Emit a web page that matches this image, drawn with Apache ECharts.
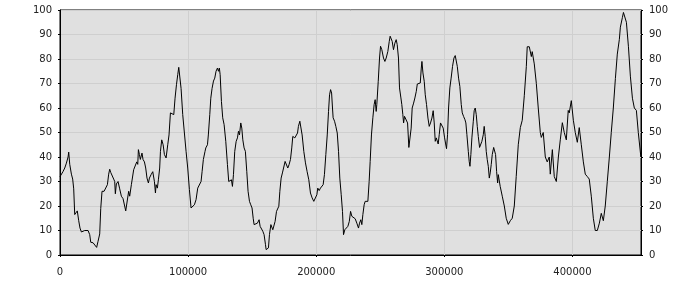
<!DOCTYPE html>
<html>
<head>
<meta charset="utf-8">
<script src="https://cdn.jsdelivr.net/npm/echarts@6/dist/echarts.min.js"></script>
<style>
  html, body { margin: 0; padding: 0; background: #fff; }
  #chart { width: 700px; height: 300px; }
</style>
</head>
<body>
<div id="chart"></div>
<script>
// x positions in thousands
var xK = [
  0, 2.3, 3.7, 5.0, 6.3, 6.8, 7.6, 8.9, 9.9, 10.7, 11.5, 12.8, 13.5, 14.6, 15.6, 16.7, 18.0, 19.3, 21.9, 23.2,
  24.0, 25.8, 27.1, 28.6, 29.7, 31.0, 31.8, 32.8, 34.4, 35.7, 37.0, 38.0, 38.8, 39.6, 41.1, 41.9, 42.7, 43.2, 44.0, 45.3,
  46.6, 47.9, 49.2, 50.5, 51.3, 52.6, 53.6, 54.4, 55.7,
  57.5, 58.6, 59.9, 60.7, 61.2, 62.0, 62.7, 64.0, 64.8, 65.9, 66.9, 67.9, 69.0, 69.8, 71.1, 72.4, 73.1, 73.7, 74.5, 75.0,
  76.0, 76.8, 77.8, 78.4, 79.4, 80.5, 81.5, 82.8, 84.1, 85.1, 86.2, 87.7, 88.8, 89.8, 90.9, 91.9, 92.7, 93.7, 94.5, 95.8,
  97.1, 98.4, 99.7, 101.0, 102.3, 103.6, 104.9, 106.2, 107.5, 108.8, 110.1, 110.9, 111.9, 113.2,
  113.8, 115.1, 115.8, 116.9, 117.7, 118.7, 119.8, 120.8, 121.8, 122.9, 123.7, 124.4, 125.0, 126.0, 127.0, 128.1, 129.4, 130.7, 131.7, 132.8,
  133.8, 134.6, 135.4, 136.4, 137.5, 138.5, 139.3, 140.1, 141.1, 141.9, 142.7, 143.7, 144.7, 145.8, 146.8, 147.9, 148.9, 149.9, 150.8, 151.5,
  152.8, 154.1, 155.4, 156.2, 157.2, 158.3, 159.3, 160.4, 160.9, 161.9, 162.7, 163.5, 164.6, 165.3, 166.1, 167.1, 167.9, 169.0,
  170.8, 171.6, 172.6, 173.6, 174.7, 175.7, 176.8, 177.8, 178.8, 179.9, 180.9, 181.7, 182.5, 183.3, 184.3, 185.4, 186.1, 187.2, 188.2, 189.0,
  190.3, 191.6, 192.9, 194.2, 195.5, 196.8, 198.1, 199.4, 200.5, 201.2, 202.3, 203.3, 204.4, 205.4, 206.4, 207.5, 208.6, 209.6, 210.4, 211.2,
  212.0, 212.7, 213.2, 214.3, 215.3, 216.4, 217.4, 218.4, 219.5, 220.5, 221.3, 222.3, 223.4, 224.7, 225.8, 226.8,
  227.8, 229.1, 230.4, 231.7, 233.0, 233.8, 234.8, 235.6, 236.4, 237.4, 238.2, 239.5, 240.3, 241.3, 242.1, 243.1, 244.2, 245.2, 246.0, 246.8,
  247.3, 248.4, 249.4, 250.2, 251.2, 252.5, 253.6, 254.6, 255.9, 257.0, 257.7, 258.5, 259.3, 260.3, 261.4, 262.4, 263.2, 264.2, 265.0, 266.1,
  266.8, 267.6, 268.2, 268.9, 270.2, 271.3, 271.8, 272.3, 273.4, 274.1, 274.9, 276.0, 277.0, 278.1, 278.9, 280.2, 281.2, 282.0, 282.5, 283.3,
  284.3, 285.1, 286.1, 287.2, 288.2, 289.2, 290.3, 291.3, 292.1, 292.9, 293.7, 294.4, 295.2, 296.0, 297.0, 298.1, 299.1, 300.2, 300.9, 301.7,
  302.5, 303.3, 304.3, 305.3, 306.4, 307.5, 308.5, 309.3, 310.1, 311.1, 312.1, 313.2, 314.0, 315.0, 316.1, 316.8, 317.6, 318.7, 319.4, 320.0,
  320.7, 321.5, 322.6, 323.3, 324.1, 324.9, 325.7, 326.5, 327.5, 328.3, 329.3, 330.4, 331.1, 331.9, 332.7, 333.5, 334.3, 335.1, 335.8, 336.6,
  337.4, 338.5, 339.2, 340.0, 340.8, 341.6, 342.1,
  343.6, 345.2, 346.8, 348.3, 349.9, 351.5, 353.0, 354.6, 356.1, 357.7, 359.3, 360.8, 362.4, 364.0, 364.7, 366.3, 367.9, 368.6, 370.2, 371.8,
  373.3, 374.9, 375.7, 377.2, 378.8, 380.3, 381.9, 382.7, 384.3, 385.8, 387.4, 389.0, 390.5, 392.1, 393.6, 395.2, 396.7, 397.5, 399.1, 400.7,
  402.2, 403.8, 405.3, 406.9, 408.5, 410.0, 411.6, 413.1, 414.7, 416.3, 417.8, 419.4, 421.0, 422.5, 424.1, 425.6, 427.2, 428.8, 430.3, 431.9,
  433.5, 435.0, 436.6, 437.4, 439.0, 439.8, 441.3, 442.1, 443.7, 445.2, 446.8, 448.3, 449.9, 451.4, 453.4
];

var values = [
  32, 34, 35.5, 37.5, 40, 42, 37, 33, 31, 27, 16.5, 16, 18, 14, 11, 9.4, 10.2, 10, 10, 8.3,
  5.2, 5, 4.2, 3.1, 5.6, 8.6, 19, 26, 26, 26, 28.7, 33, 35, 33.7, 34, 31, 30, 25, 29, 30,
  27, 24, 23, 23, 18, 18, 26, 24, 28.7,
  34.8, 34, 38, 37, 43, 41, 39, 41.6, 39, 38, 35.5, 31.4, 29.4, 31.4, 32.8, 34, 33.5, 30, 25.3, 28.7,
  27.3, 30.7, 35.5, 42.3, 47, 45, 41, 39.6, 45, 49, 58, 58, 57.3, 64, 69.5, 73.6, 76.6, 76.6, 68, 57.3,
  49.8, 42.3, 35.5, 26.7, 19.2, 19.9, 20.5, 22.6, 27.3, 28, 30, 34, 39, 42.3,
  43.7, 45, 49, 57.3, 64, 68, 71, 72.2, 75, 76.3, 75, 76.3, 73.6, 62.7, 56, 53.2, 46.4, 36.9, 30, 29.4,
  30.7, 28, 32.8, 42.3, 46.4, 47.8, 50.5, 49, 53.9, 51.8, 47, 43.7, 42.3, 34, 26, 21.9, 20.5, 19.2, 15, 12.4,
  12.4, 13, 14.4, 11.7, 11, 9.7, 8.3, 4.2, 2.2, 2.2, 2.9, 8.3, 12.4, 11.7, 10.3, 10.3, 13.7, 17.8,
  19.9, 26, 31.4, 33.5, 34, 38.2, 38.2, 35.5, 36.9, 39, 43.7, 48.4, 49, 47.8, 48.4, 49.8, 52.5, 54.6, 54.6, 49,
  42.3, 37.6, 34, 30.7, 25.3, 23.3, 21.9, 21.2, 24.6, 27.3, 26.3, 27.3, 26.7, 28.7, 32.8, 41, 49, 58.6, 65.4, 67.5,
  66.1, 60, 56, 54.6, 52.5, 49.8, 42.3, 31.4, 24.6, 17.8, 8.3, 10.3, 11, 11.7, 13.7, 17.8,
  15.8, 15.1, 14.8, 13, 11, 13, 14.4, 12.4, 16.5, 20.5, 21.9, 21.9, 21.9, 30, 38.2, 49, 56, 61.4, 63.4, 58.6,
  61.4, 70.9, 80.4, 85.2, 83.8, 80.4, 79, 80.4, 83.1, 87.2, 89.3, 88.6, 87.2, 83.8, 86.5, 87.9, 85.9, 80.4, 68.2, 64.1,
  61.4, 57.3, 53.9, 56.6, 57.3, 53.9, 49, 43.9, 43.9, 51.8, 60, 62, 64.1, 66.8, 69.8, 69.8, 70.2, 76.3, 79, 74.3,
  70.9, 65.4, 61.4, 55.9, 52.5, 53.9, 55.9, 58.9, 53.9, 46.4, 47.8, 47.1, 45.3, 49.1, 53.9, 53.9, 51.8, 47.8, 45.7, 43.4,
  49.1, 60, 68.2, 72.2, 77, 80.4, 81.4, 81.8, 77, 72.2, 68.8, 61.4, 58, 56.6, 55.2, 53.9, 49.1, 42.3, 38.2, 36.2,
  41, 47.8, 54.6, 58.9, 60, 57.3, 52.5, 48.4, 43.9, 43.9, 46.4, 49.1, 52.5, 48.4, 42.3, 38.9, 36.2, 31.4, 33.5, 36.9,
  41, 43.9, 43.7, 41, 34, 29.4, 32.8,
  28, 24, 20, 15, 12.5, 14, 15, 20, 32, 45, 52, 55, 65, 77, 85, 85, 81, 83, 78, 70,
  60, 50, 48, 50, 40, 38, 40, 33, 43, 32, 30, 40, 47, 54, 50, 47, 59, 58, 63, 55,
  50, 46, 52, 45, 38, 33, 32, 31, 24, 15, 10, 10, 13, 17, 14, 20, 30, 40, 50, 60,
  72, 82, 88, 93, 97, 99, 98.5, 95, 85, 73, 64, 60, 59, 50, 40
];

var xMax = 453500;
var yTicks = { min: 0, max: 100, step: 10 };

var seriesData = xK.map(function (x, i) { return [x * 1000, values[i]]; });

var chart = echarts.init(document.getElementById('chart'));
var labelFont = { fontFamily: 'DejaVu Sans', fontSize: 10, color: '#222' };

function yAxisDef(pos) {
  return {
    type: 'value',
    position: pos,
    min: yTicks.min,
    max: yTicks.max,
    interval: yTicks.step,
    axisLine: { show: true, lineStyle: { color: '#000' } },
    axisTick: { show: true, length: 2, lineStyle: { color: '#000' } },
    axisLabel: Object.assign({ margin: 8 }, labelFont),
    splitLine: { show: pos === 'left', lineStyle: { color: '#cfcfcf', width: 1 } }
  };
}

var option = {
  animation: false,
  backgroundColor: '#fff',
  grid: {
    left: 60, right: 59, top: 10, bottom: 45,
    show: true,
    backgroundColor: '#e0e0e0',
    borderColor: '#000',
    borderWidth: 1
  },
  xAxis: {
    type: 'value',
    min: 0,
    max: xMax,
    interval: 100000,
    axisLine: { show: true, lineStyle: { color: '#000' } },
    axisTick: { show: true, length: 2, lineStyle: { color: '#000' } },
    axisLabel: Object.assign({
      margin: 12,
      showMaxLabel: false,
      formatter: function (v) { return String(v); }  // no thousands separator
    }, labelFont),
    splitLine: { show: true, lineStyle: { color: '#cfcfcf', width: 1 } }
  },
  yAxis: [yAxisDef('left'), yAxisDef('right')],
  series: [{
    type: 'line',
    data: seriesData,
    showSymbol: false,
    symbol: 'none',
    lineStyle: { color: '#000', width: 1 },
    z: 3
  }]
};

chart.setOption(option);
</script>
</body>
</html>
